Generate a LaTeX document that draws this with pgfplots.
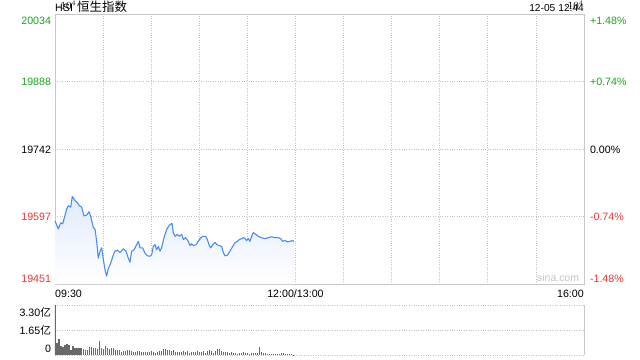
\documentclass[border=0pt]{standalone}
\usepackage{pgfplots}
\pgfplotsset{compat=1.18}
\usepackage{fontspec}
\setmainfont{Liberation Sans}
\newfontfamily\cjk{Noto Sans CJK SC}
\definecolor{upgreen}{RGB}{26,165,26}
\definecolor{downred}{RGB}{238,52,52}
\definecolor{frame}{RGB}{200,200,200}
\definecolor{gridc}{RGB}{195,195,195}
\definecolor{lineblue}{RGB}{74,140,245}
\definecolor{fillblue}{RGB}{224,235,253}
\definecolor{volgray}{RGB}{105,105,105}
\begin{document}
\begin{tikzpicture}
\path[use as bounding box] (0bp,0bp) rectangle (640bp,-360bp);
\node[anchor=base west, inner sep=0pt, font=\fontsize{10.7}{12}\selectfont] at (55bp,-11.7bp) {HSI};
\node[anchor=base west, inner sep=0pt, font=\cjk\fontsize{12.5}{13}\selectfont] at (77bp,-11.7bp) {恒生指数};
\node[anchor=base east, inner sep=0pt, font=\fontsize{10.2}{12}\selectfont] at (555.5bp,-11.7bp) {12-05};
\node[anchor=base east, inner sep=0pt, font=\fontsize{10.2}{12}\selectfont] at (584bp,-11.7bp) {12:44};
% main price axis
\begin{axis}[
  at={(55bp,-14bp)}, anchor=north west,
  scale only axis, width=529bp, height=270bp,
  xmin=0, xmax=330, ymin=19451, ymax=20034,
  axis line style={draw=frame, line width=0.8bp},
  yticklabel pos=left,
  major tick length=0pt, minor tick length=0pt,
  xtick={30,60,...,300},
  xticklabels={},
  xmajorgrids=true,
  major grid style={dotted, draw=gridc, line width=0.8bp},
  ytick={19451,19597,19742,19888,20034},
  yticklabels={\raisebox{6bp}{\textcolor{downred}{19451}},\textcolor{downred}{19597},19742,\textcolor{upgreen}{19888},\raisebox{-6.5bp}{\textcolor{upgreen}{20034}}},
  minor ytick={19597,19742,19888},
  yminorgrids=true,
  minor grid style={dotted, draw=gridc, line width=0.8bp},
  tick label style={font=\fontsize{10.7}{12}\selectfont},
  yticklabel style={anchor=base east, yshift=-4bp, xshift=-0.5bp},
  clip=false,
]
\addplot[top color=fillblue, bottom color=white, draw=none] coordinates {
(0,19451) (0,19587) (2.1,19570) (3.5,19583) (4.8,19581) (5.6,19591) (7.3,19613) (8.3,19620) (9.8,19617) (10.8,19640) (12.5,19631) (13.9,19627) (15.2,19620) (16.6,19617) (18.1,19598) (19.8,19600) (21.2,19607) (22.2,19598) (23.9,19573) (25.0,19569) (26.0,19543) (27.0,19507) (28.1,19522) (29.1,19529) (30.2,19503) (31.2,19482) (32.2,19468) (33.3,19485) (34.3,19492) (35.4,19503) (36.4,19514) (37.4,19522) (38.9,19524) (40.5,19519) (42.6,19527) (44.3,19522) (45.7,19507) (46.8,19498) (47.8,19522) (49.3,19525) (50.9,19536) (52.0,19543) (53.0,19529) (54.7,19529) (56.1,19518) (57.6,19512) (59.3,19511) (60.3,19514) (61.3,19532) (62.4,19536) (63.4,19525) (64.5,19532) (65.5,19522) (66.5,19529) (68.0,19551) (69.7,19569) (71.3,19578) (73.0,19582) (73.8,19562) (74.9,19554) (76.3,19558) (77.6,19554) (79.0,19558) (80.1,19547) (81.5,19551) (83.2,19543) (84.2,19534) (85.3,19538) (86.3,19534) (88.0,19536) (89.4,19543) (90.9,19551) (92.5,19554) (94.0,19554) (95.0,19547) (96.1,19536) (97.1,19529) (98.4,19536) (99.8,19541) (100.9,19536) (102.5,19534) (104.0,19532) (105.0,19519) (106.0,19512) (107.5,19513) (109.2,19522) (110.8,19532) (112.3,19540) (113.7,19543) (115.0,19547) (116.4,19549) (117.9,19551) (119.6,19545) (120.6,19549) (121.6,19543) (122.7,19554) (123.7,19562) (125.4,19558) (126.8,19554) (128.9,19551) (131.0,19549) (133.1,19551) (135.2,19553) (137.2,19551) (139.3,19551) (140.8,19549) (142.0,19543) (143.5,19545) (144.9,19542) (146.6,19543) (148.1,19545) (149.1,19543) (149.1,19451)
};
\addplot[draw=lineblue, line width=1.1bp, line join=round] coordinates {
(0,19587) (2.1,19570) (3.5,19583) (4.8,19581) (5.6,19591) (7.3,19613) (8.3,19620) (9.8,19617) (10.8,19640) (12.5,19631) (13.9,19627) (15.2,19620) (16.6,19617) (18.1,19598) (19.8,19600) (21.2,19607) (22.2,19598) (23.9,19573) (25.0,19569) (26.0,19543) (27.0,19507) (28.1,19522) (29.1,19529) (30.2,19503) (31.2,19482) (32.2,19468) (33.3,19485) (34.3,19492) (35.4,19503) (36.4,19514) (37.4,19522) (38.9,19524) (40.5,19519) (42.6,19527) (44.3,19522) (45.7,19507) (46.8,19498) (47.8,19522) (49.3,19525) (50.9,19536) (52.0,19543) (53.0,19529) (54.7,19529) (56.1,19518) (57.6,19512) (59.3,19511) (60.3,19514) (61.3,19532) (62.4,19536) (63.4,19525) (64.5,19532) (65.5,19522) (66.5,19529) (68.0,19551) (69.7,19569) (71.3,19578) (73.0,19582) (73.8,19562) (74.9,19554) (76.3,19558) (77.6,19554) (79.0,19558) (80.1,19547) (81.5,19551) (83.2,19543) (84.2,19534) (85.3,19538) (86.3,19534) (88.0,19536) (89.4,19543) (90.9,19551) (92.5,19554) (94.0,19554) (95.0,19547) (96.1,19536) (97.1,19529) (98.4,19536) (99.8,19541) (100.9,19536) (102.5,19534) (104.0,19532) (105.0,19519) (106.0,19512) (107.5,19513) (109.2,19522) (110.8,19532) (112.3,19540) (113.7,19543) (115.0,19547) (116.4,19549) (117.9,19551) (119.6,19545) (120.6,19549) (121.6,19543) (122.7,19554) (123.7,19562) (125.4,19558) (126.8,19554) (128.9,19551) (131.0,19549) (133.1,19551) (135.2,19553) (137.2,19551) (139.3,19551) (140.8,19549) (142.0,19543) (143.5,19545) (144.9,19542) (146.6,19543) (148.1,19545) (149.1,19543)
};
\node[text=gridc, font=\fontsize{10.5}{12}\selectfont] at (rel axis cs:0.951,0.024) {sina.com};
\node[anchor=base west, inner sep=0pt, yshift=-13bp, font=\fontsize{10.7}{12}\selectfont] at (rel axis cs:0,0) {09:30};
\node[anchor=base, inner sep=0pt, yshift=-13bp, font=\fontsize{10.7}{12}\selectfont] at (axis cs:150,19451) {12:00/13:00};
\node[anchor=base east, inner sep=0pt, yshift=-13bp, font=\fontsize{10.7}{12}\selectfont] at (rel axis cs:1,0) {16:00};
\end{axis}
% right percentage axis
\begin{axis}[
  at={(55bp,-14bp)}, anchor=north west,
  scale only axis, width=529bp, height=270bp,
  xmin=0, xmax=330, ymin=19451, ymax=20034,
  hide x axis, axis y line*=right,
  xtick=\empty,
  y axis line style={draw=none},
  major tick length=0pt,
  ytick={19451,19597,19742,19888,20034},
  yticklabels={\raisebox{6bp}{\textcolor{downred}{-1.48\%}},\textcolor{downred}{-0.74\%},0.00\%,\textcolor{upgreen}{+0.74\%},\raisebox{-6.5bp}{\textcolor{upgreen}{+1.48\%}}},
  tick label style={font=\fontsize{10.7}{12}\selectfont},
  yticklabel style={anchor=base west, yshift=-4bp, xshift=2.5bp},
]
\end{axis}
% volume axis
\begin{axis}[
  at={(55bp,-305bp)}, anchor=north west,
  scale only axis, width=529bp, height=50bp,
  xmin=0, xmax=330, ymin=0, ymax=3.3,
  axis x line=none, axis y line*=box,
  xtick=\empty, yticklabel pos=left,
  axis line style={-, draw=frame, line width=0.8bp},
  major tick length=0pt,
  ytick={0,1.65,3.3},
  yticklabels={\raisebox{7bp}{0},1.65{\cjk 亿},\raisebox{-7bp}{3.30{\cjk 亿}}},
  ymajorgrids=true,
  major grid style={dotted, draw=gridc, line width=0.8bp},
  tick label style={font=\fontsize{10.7}{12}\selectfont},
  yticklabel style={anchor=base east, yshift=-4bp, xshift=-0.5bp},
  clip=true,
]
\addplot[ycomb, draw=volgray, line width=1.1bp, mark=none] coordinates {
(0,3.3) (1.25,0.81) (2.5,1.08) (3.75,0.59) (5,0.55) (6.25,0.64) (7.5,0.75) (8.75,0.64) (10,0.33) (11.25,0.59) (12.5,0.48) (13.75,0.44) (15,0.46) (16.25,0.44) (17.5,0.37) (18.75,0.33) (20,0.31) (21.25,0.53) (22.5,0.55) (23.75,0.48) (25,0.46) (26.25,0.40) (27.5,0.92) (28.75,0.48) (30,0.37) (31.25,0.59) (32.5,0.48) (33.75,0.37) (35,0.44) (36.25,0.46) (37.5,0.31) (38.75,0.33) (40,0.31) (41.25,0.22) (42.5,0.26) (43.75,0.29) (45,0.33) (46.25,0.33) (47.5,0.29) (48.75,0.22) (50,0.22) (51.25,0.26) (52.5,0.24) (53.75,0.22) (55,0.20) (56.25,0.18) (57.5,0.22) (58.75,0.20) (60,0.26) (61.25,0.22) (62.5,0.15) (63.75,0.22) (65,0.24) (66.25,0.29) (67.5,0.37) (68.75,0.40) (70,0.35) (71.25,0.35) (72.5,0.29) (73.75,0.31)
(75,0.20) (76.25,0.18) (77.5,0.20) (78.75,0.20) (80,0.24) (81.25,0.22) (82.5,0.26) (83.75,0.15) (85,0.22) (86.25,0.20) (87.5,0.20) (88.75,0.26) (90,0.22) (91.25,0.22) (92.5,0.26) (93.75,0.15) (95,0.24) (96.25,0.33) (97.5,0.26) (98.75,0.15) (100,0.26) (101.25,0.37) (102.5,0.40) (103.75,0.26) (105,0.18) (106.25,0.20) (107.5,0.20) (108.75,0.15) (110,0.20) (111.25,0.13) (112.5,0.11) (113.75,0.09) (115,0.13) (116.25,0.13) (117.5,0.20) (118.75,0.13) (120,0.13) (121.25,0.09) (122.5,0.13) (123.75,0.11) (125,0.15) (126.25,0.11) (127.5,0.55) (128.75,0.20) (130,0.11) (131.25,0.11) (132.5,0.09) (133.75,0.09) (135,0.09) (136.25,0.09) (137.5,0.09) (138.75,0.09) (140,0.09) (141.25,0.13) (142.5,0.13) (143.75,0.04) (145,0.04) (146.25,0.09) (147.5,0.04) (148.75,0.02)
};
\end{axis}
\end{tikzpicture}
\end{document}
